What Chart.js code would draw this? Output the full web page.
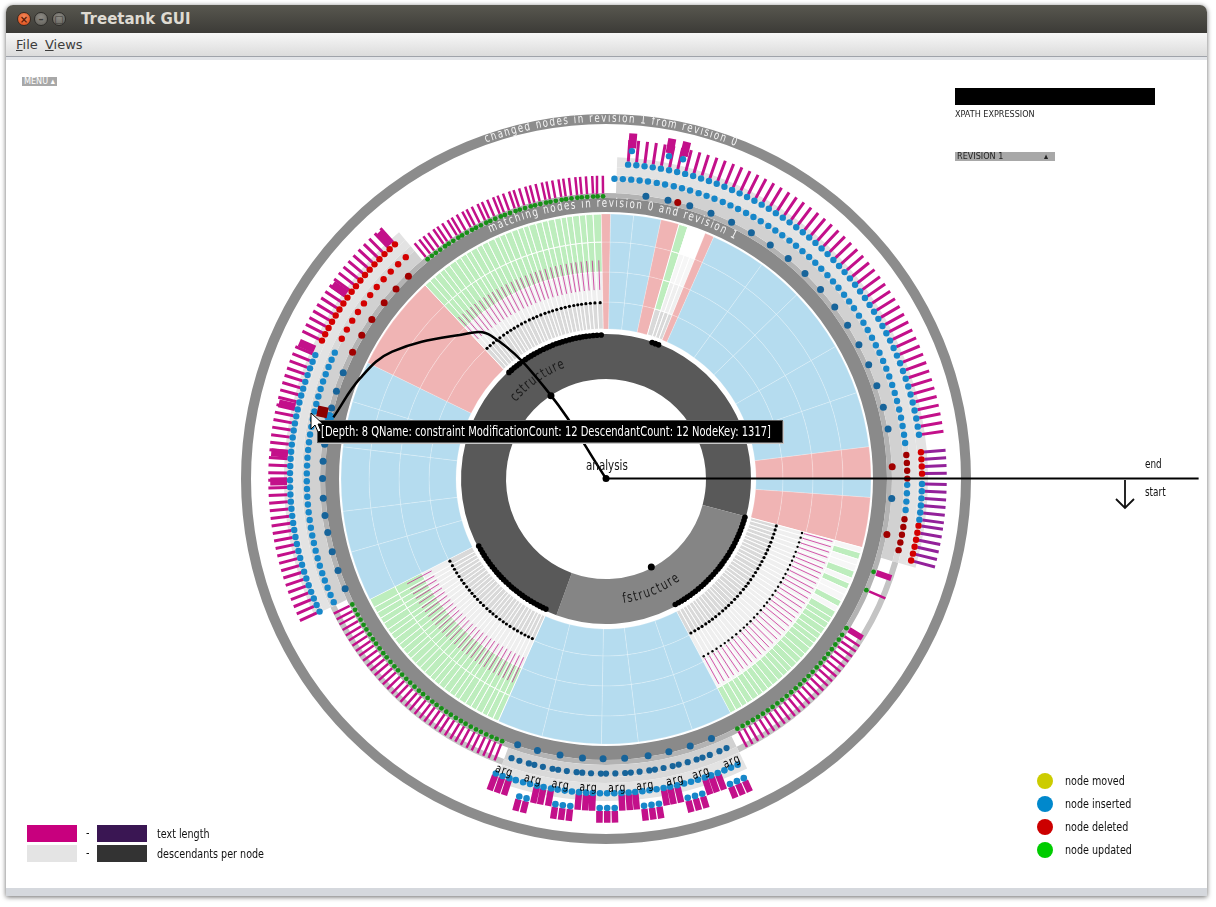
<!DOCTYPE html>
<html>
<head>
<meta charset="utf-8">
<title>Treetank GUI</title>
<script src="https://cdn.jsdelivr.net/npm/chart.js@4.4.1/dist/chart.umd.min.js"></script>
<style>
  body { margin: 0; width: 1216px; height: 907px; background: #fff; overflow: hidden; position: relative;
    font-family: "Liberation Sans Narrow", "DejaVu Sans Condensed", sans-serif; }
  #win { position: absolute; left: 6px; top: 5px; width: 1201px; height: 891px; background: #fff;
    border-radius: 7px 7px 0 0; box-shadow: 0 1px 5px rgba(0,0,0,.6); }
  #title { position: absolute; left: 0; top: 0; width: 100%; height: 28px; border-radius: 7px 7px 0 0;
    background: linear-gradient(#58574f, #3c3b37); }
  .b { position: absolute; top: 7px; width: 14px; height: 14px; border-radius: 50%; box-sizing: border-box;
    font: bold 10px/13px "DejaVu Sans", sans-serif; text-align: center; }
  .close { left: 11px; background: radial-gradient(circle at 50% 35%, #f58a5c, #dd4814); color: #5a1a05; border: 1px solid #3a2a20; }
  .min { left: 28px; background: radial-gradient(circle at 50% 35%, #8d8b85, #605e58); color: #3a3935; border: 1px solid #2e2d2a; }
  .max { left: 46px; background: radial-gradient(circle at 50% 35%, #8d8b85, #605e58); color: #3a3935; border: 1px solid #2e2d2a; }
  #ttl { position: absolute; left: 75px; top: 5px; color: #dfdbd2; font: bold 15px "DejaVu Sans", sans-serif; }
  #menu { position: absolute; left: 0; top: 28px; width: 100%; height: 23px; background: linear-gradient(#f7f7f7, #dcdcdc);
    border-bottom: 1px solid #9fa3aa; font: 13px "DejaVu Sans", sans-serif; color: #3c3c3c; }
  #menu span { position: absolute; top: 4px; }
  #strip { position: absolute; left: 0; top: 52px; width: 100%; height: 3px; background: #e2e4e8; }
  #bottom { position: absolute; left: 0; bottom: 0; width: 100%; height: 8px; background: #d5d8dd; }
  canvas { position: absolute; left: 0; top: 0; }
  .ui { position: absolute; white-space: nowrap; }
  .tiny { font: 9px/9px "DejaVu Sans Condensed", sans-serif; }
  .lab { font-size: 13px; color: #111; transform: scaleX(0.82); transform-origin: 0 50%; }
  .dot { position: absolute; width: 16px; height: 16px; border-radius: 50%; }
</style>
</head>
<body>
<div id="win">
  <div id="title"><span class="b close">×</span><span class="b min">–</span><span class="b max">□</span><span id="ttl">Treetank GUI</span></div>
  <div id="menu"><span style="left:10px"><u>F</u>ile</span><span style="left:39px"><u>V</u>iews</span></div>
  <div id="strip"></div>
  <div id="bottom"></div>
</div>
<canvas id="rings" width="1216" height="907"></canvas>
<canvas id="marks" width="1216" height="907"></canvas>

<div class="ui tiny" style="left:22px;top:77px;width:35px;height:9px;background:#a8a8a8;color:#fff;padding-left:2px;box-sizing:border-box;overflow:hidden">MENU ▴</div>
<div class="ui" style="left:955px;top:88px;width:200px;height:17px;background:#000"></div>
<div class="ui tiny" style="left:955px;top:110px;color:#222">XPATH EXPRESSION</div>
<div class="ui tiny" style="left:955px;top:152px;width:100px;height:9px;background:#a8a8a8;color:#222;padding-left:2px;box-sizing:border-box">REVISION 1<span style="position:absolute;left:89px;top:0">▴</span></div>

<div class="ui lab" style="left:1145px;top:457px;font-size:12px">end</div>
<div class="ui lab" style="left:1145px;top:485px;font-size:12px">start</div>
<svg class="ui" style="left:1110px;top:478px" width="32" height="34">
  <path d="M15 2 V30 M6 21 L15 30 L24 21" stroke="#111" stroke-width="1.8" fill="none"/>
</svg>

<div class="ui lab" style="left:586px;top:457px;font-size:14px">analysis</div>

<div class="ui" style="left:317px;top:420px;width:466px;height:23px;background:#000;border:1px solid #5a5a5a;box-shadow:1px 1px 0 #c8c8c8;box-sizing:border-box"></div>
<div class="ui lab" style="left:321px;top:421px;color:#fff;font-size:14px;line-height:21px;transform:scaleX(0.79)">[Depth: 8 QName: constraint ModificationCount: 12 DescendantCount: 12 NodeKey: 1317]</div>
<svg class="ui" style="left:310px;top:412px" width="14" height="22">
  <path d="M1 1 L1 17 L5 13 L8 20 L11 19 L8 12 L13 12 Z" fill="#fff" stroke="#000" stroke-width="1"/>
</svg>

<div class="ui" style="left:27px;top:825px;width:50px;height:17px;background:#c8007e"></div>
<div class="ui lab" style="left:86px;top:825px">-</div>
<div class="ui" style="left:97px;top:825px;width:50px;height:17px;background:#3a1653"></div>
<div class="ui lab" style="left:157px;top:826px">text length</div>
<div class="ui" style="left:27px;top:845px;width:50px;height:17px;background:#e4e4e4"></div>
<div class="ui lab" style="left:86px;top:845px">-</div>
<div class="ui" style="left:97px;top:845px;width:50px;height:17px;background:#333"></div>
<div class="ui lab" style="left:157px;top:846px">descendants per node</div>

<div class="dot" style="left:1037px;top:773px;background:#cccc00"></div>
<div class="ui lab" style="left:1065px;top:773px">node moved</div>
<div class="dot" style="left:1037px;top:796px;background:#0088cc"></div>
<div class="ui lab" style="left:1065px;top:796px">node inserted</div>
<div class="dot" style="left:1037px;top:819px;background:#cc0000"></div>
<div class="ui lab" style="left:1065px;top:819px">node deleted</div>
<div class="dot" style="left:1037px;top:842px;background:#00cc00"></div>
<div class="ui lab" style="left:1065px;top:842px">node updated</div>

<script>
"use strict";
const RAD = Math.PI / 180;
const NONE = "rgba(0,0,0,0)";
const FONT = '"Liberation Sans Narrow", "DejaVu Sans Condensed", sans-serif';

// ---- inner sunburst (angles in degrees, clockwise from the start line)
const sunKinds = ["B", "P", "G3", "B", "G5", "B", "P", "G8", "P", "B", "P", "GR", "GS", "P", "B", "P"];
const g3Leaves = [1.2, 1.5, 1.3, 1.4, 1.6, 1.2, 1.4, 1.3, 1.5, 1.4, 1.2, 1.6, 1.3, 1.4, 1.5, 1.3, 1.2,
  1.4, 1.6, 1.3, 1.4, 1.5, 1.2, 1.3, 1.4, 1.6, 1.3, 1.4, 1.2, 1.5, 1.4, 1.3, 1.5, 1.4];
const g3Green = [0, 1, 0, 0, 1, 0, 1, 0, 0, 1, 0, 1, 1, 1, 1, 1, 1, 1, 1, 1, 1, 1, 1, 1, 1, 1, 1, 1, 1, 1, 1, 1, 1, 1];
const g5Leaves = [1.3, 1.4, 1.2, 1.5, 1.3, 1.4, 1.6, 1.2, 1.3, 1.5, 1.4, 1.3, 1.2, 1.6, 1.4, 1.3, 1.5,
  1.2, 1.4, 1.3, 1.5, 1.4, 1.2, 1.6, 1.3, 1.4, 1.3, 2.0];
const g8Leaves = [1.4, 1.3, 1.5, 1.2, 1.4, 1.6, 1.3, 1.4, 1.2, 1.5, 1.3, 1.4, 1.6, 1.2, 1.3, 1.5, 1.4,
  1.3, 1.2, 1.6, 1.4, 1.3, 1.5, 1.4, 1.2, 1.3, 1.5, 1.4, 1.6, 1.8];
const gsLeaves = [1.3, 1.4, 1.3];
const sunParts = [[4], [11], g3Leaves, [9, 12, 8, 13, 10], g5Leaves, [11, 9, 14, 10, 9], [21], g8Leaves,
  [2], [5, 6], [4], [2], gsLeaves, [2], [12, 10, 14, 11, 12], [7]];
const regionStart = { G3: 15, G5: 114, G8: 227, GS: 288 };

const rootSpans = [15, 95, 250];
const rootNames = ["cstructure", "fstructure", "cstructure"];
const rootDots = [236.5, 63];

// ---- outer bands: C = changed nodes, M = matching nodes
const outerSpans = [16, 48, 46, 45, 75, 42, 88];
const outerKinds = ["C", "M", "C", "M", "C", "M", "C"];

// changed nodes, top right
const trRow1Blue = [278, 282.5, 287, 291.5, 296, 300.5, 305, 309.5, 314, 318.5, 323, 327.5, 332, 336.5, 341, 345.5, 350, 364];
const trRow1Red = [284.5, 357.6, 371.3];
const trRow2Blue = [271.6, 273.2, 274.8, 276.4, 278, 279.7, 281.3, 283, 284.6, 286.2, 287.9, 289.5, 291.1, 292.8,
  294.4, 296, 297.7, 299.3, 300.9, 302.6, 304.2, 305.8, 307.5, 309.1, 310.7, 312.4, 314, 315.6, 317.3, 318.9,
  320.5, 322.2, 323.8, 325.4, 327.1, 328.7, 330.3, 332, 333.6, 335.2, 336.9, 338.5, 340.1, 341.8, 343.4, 345,
  346.7, 348.3, 349.9, 351.6, 353.2, 361.2, 362.8, 364.4, 366];
const trRow2Red = [355.5, 357, 358.5, 360, 367.8, 369.3, 370.8, 372.3, 373.8];
const trRow3Blue = [274, 275.5, 277, 278.5, 280, 281.5, 283, 284.5, 286, 287.5, 289, 290.5, 292, 293.5, 295,
  296.5, 298, 299.5, 301, 302.5, 304, 305.5, 307, 308.5, 310, 311.5, 313, 314.5, 316, 317.5, 319, 320.5, 322,
  323.5, 325, 326.5, 328, 329.5, 331, 332.5, 334, 335.5, 337, 338.5, 340, 341.5, 343, 344.5, 346, 347.5, 349,
  350.5, 352];
const trRow3BlueEast = [361, 362.3, 363.6, 364.9, 366.2, 367.5];
const trRow3Red = [355.2, 356.5, 357.8, 359.1, 368.6, 369.9, 371.2, 372.5, 373.8, 375.1];
const trBlocks = [274.5, 281, 283.5];

// changed nodes, left
const leftRow1Blue = [157, 161, 165, 169, 172.5, 176, 180, 183.5, 187, 191, 194.5, 198, 202];
const leftRow1Red = [206.6, 210.5, 214.3, 218.5, 222.2, 225.8];
const leftRow2Blue = [155.5, 157, 158.5, 160, 161.5, 163, 164.5, 166, 167.5, 169, 170.5, 172, 173.5, 175, 176.5,
  178, 179.5, 181, 182.5, 184, 185.5, 187, 188.5, 190, 191.5, 193, 194.5, 196, 197.5, 199, 200.5, 202, 203.5, 205];
const leftRow2Red = [208, 210, 212, 214, 216, 218, 220, 222, 224, 226, 228];
const leftRow3Blue = [155, 156.3, 157.6, 158.9, 160.2, 161.5, 162.8, 164.1, 165.4, 166.7, 168, 169.3, 170.6, 171.9,
  173.2, 174.5, 175.8, 177.1, 178.4, 179.7, 181, 182.3, 183.6, 184.9, 186.2, 187.5, 188.8, 190.1, 191.4, 192.7,
  194, 195.3, 196.6, 197.9, 199.2, 200.5, 201.8, 203.1];
const leftRow3Red = [206, 207.3, 208.6, 209.9, 211.2, 212.5, 213.8, 215.1, 216.4, 217.7, 219, 220.3, 221.6, 222.9,
  224.2, 225.5, 226.8, 228.1];
const leftBlocks = [179.5, 184.5, 193, 204, 215.5, 227.5];

// changed nodes, bottom ("arg" elements)
const botRow1 = [68, 72.6, 77.1, 81.4, 86.2, 90.6, 94.8, 99.4, 104.1, 108.3];
const botRow2 = [66, 67.5, 69.5, 71, 72.2, 74, 75.8, 77, 78.8, 80.5, 81.6, 83.5, 85.2, 86.3, 88.2, 90, 91, 92.9,
  94.6, 95.7, 97.6, 99.3, 100.4, 102.3, 104, 105.1, 107, 108.6];
const botArgs = [109.3, 103.7, 98.5, 93.3, 88, 82.8, 77.2, 72.2, 66.1];
const botRow3 = [110.4, 109.1, 107.8, 106.6, 105.2, 103.9, 102.6, 101.4, 100, 98.8, 97.5, 96.2, 94.9, 93.6, 92.4,
  91.1, 89.8, 88.5, 87.2, 85.9, 84.7, 83.4, 82.1, 80.8, 79.5, 78.3, 77, 75.7, 74.4, 73.1, 71.8, 70.6, 69.3, 68,
  66.7, 65.4];
const botInnerBars = [110.4, 109.1, 107.8, 102.6, 101.4, 100, 94.9, 93.6, 92.4, 87.2, 85.9, 84.7, 79.5, 78.3, 77,
  71.8, 70.6, 69.3];
const botOuterBars = [105.2, 103.9, 98.8, 97.5, 96.2, 91.1, 89.8, 88.5, 83.4, 82.1, 80.8, 75.7, 74.4, 73.1, 68,
  66.7, 65.4];

// updated nodes on the matching band
const greenTL = [231, 232.1, 233.1, 234.2, 235.4, 236.3, 237.4, 238.6, 239.5, 240.6, 241.8, 242.7, 243.8, 245,
  245.9, 247, 248.2, 249.1, 250.2, 251.4, 252.3, 253.4, 254.6, 255.5, 256.6, 257.8, 258.7, 259.8, 261, 261.9,
  263, 264.2, 265.1, 266.2, 267.4, 268.3, 269.4];
const greenLL = [111.5, 112.7, 113.8, 115, 116.2, 117.3, 118.5, 119.7, 120.8, 122, 123.2, 124.3, 125.5, 126.7,
  127.8, 129, 130.2, 131.3, 132.5, 133.7, 134.8, 136, 137.2, 138.3, 139.5, 140.7, 141.8, 143, 144.2, 145.3,
  146.5, 147.7, 148.8, 150, 151.2, 152.3, 153.5];
const greenLR = [23.3, 33.6, 34.8, 36, 37.2, 38.4, 39.6, 40.8, 42, 43.2, 44.4, 45.6, 46.8, 48, 49.2, 50.4, 51.6,
  52.8, 54, 55.2, 56.4, 57.6, 58.8, 60, 61.2, 62.4];
const greenWide = [19.3, 32.0];

// hovered node and its link to the root
const hoverNode = { angle: 193.3, radius: 295 };
const linkAngles = [0, 236.5, 231.3, 224.6, 210.8, 202.3, 192.7];
const linkRadii = [0, 103, 186, 208, 252, 269, 283];

// ---------- helpers
const pol = (a, r) => ({ x: r * Math.cos(a * RAD), y: r * Math.sin(a * RAD) });
const GAP = { x: null, y: null };
const centers = (start, spans) => { let s = start; return spans.map((v) => { const c = s + v / 2; s += v; return c; }); };

const BLUE = "#b5dcef", PINK = "#f0b4b4", GREEN = "#bdedbd";
function sunColor(kind, ring, i) {
  if (kind === "B") return BLUE;
  if (kind === "P") return PINK;
  if (kind === "GR") return ring === 0 ? "#d9d9d9" : GREEN;
  if (ring === 0) return "#d9d9d9";
  if (ring === 1) return "#efefef";
  if (kind === "GS") return ring === 2 ? "#f6f6f6" : "#ffffff";
  if (kind === "G3") return ring === 2 ? "#f5f5f5" : (g3Green[i] ? GREEN : "#f7f7f7");
  return GREEN;
}
function sunRing(ring, weight) {
  const data = [], bg = [], bc = [];
  sunParts.forEach((parts, k) => parts.forEach((v, i) => {
    data.push(v);
    bg.push(sunColor(sunKinds[k], ring, i));
    bc.push(sunKinds[k][0] === "G" ? "#ffffff" : "rgba(255,255,255,0.2)");
  }));
  return { data, backgroundColor: bg, borderColor: bc, borderWidth: 1, weight };
}
const plain = (weight, color) => ({ data: [360], backgroundColor: color, borderWidth: 0, weight });
const band = (weight, colC, colM) => ({ data: outerSpans, borderWidth: 0, weight,
  backgroundColor: outerKinds.map((k, i) => (k === "C" ? colC : colM(i))) });

// ---------- rings (doughnut, outermost dataset first, weight = px)
new Chart(document.getElementById("rings"), {
  type: "doughnut",
  data: { datasets: [
    plain(10, "#8c8c8c"),
    plain(10, NONE),
    plain(23, NONE),
    band(10, "#e3e3e3", () => NONE),
    band(8, "#e3e3e3", () => NONE),
    band(6, "#d9d9d9", (i) => (i === 5 ? NONE : "#c4c4c4")),
    band(12, "#d1d1d1", () => NONE),
    plain(5, "#b3b3b3"),
    plain(14, "#8a8a8a"),
    plain(2, NONE),
    sunRing(3, 28), sunRing(2, 30), sunRing(1, 30), sunRing(0, 27),
    plain(5, NONE),
    { data: rootSpans, borderWidth: 0, weight: 45,
      backgroundColor: rootNames.map((n) => (n === "cstructure" ? "#595959" : "#858585")) },
    plain(100, NONE),
  ] },
  options: { responsive: false, animation: false, events: [], rotation: 90, circumference: 360,
    radius: 365, cutout: 0, layout: { padding: { left: 0, right: 4, top: 51, bottom: 0 } },
    plugins: { legend: { display: false }, tooltip: { enabled: false } } },
});

// ---------- marks (dots, bars, lines) on a 1px = 1 unit polar frame
const dots = (angles, r, color, size) => ({ type: "scatter", order: 3, data: angles.map((a) => pol(a, r)),
  pointRadius: size, pointBackgroundColor: color, pointBorderWidth: 0, borderWidth: 0 });
const bars = (angles, r0, r1, color, w) => ({ type: "line", order: 4,
  data: angles.flatMap((a) => [pol(a, r0), pol(a, r1), GAP]), borderColor: color, borderWidth: w,
  pointRadius: 0, showLine: true, spanGaps: false, borderCapStyle: "butt", tension: 0 });

const DBLUE = "#17649a", IBLUE = "#1787c9", DRED = "#a00000", RED = "#d40000", GDOT = "#178f17";
const MAG = "#c3108a", PURP = "#93219a", SLIVER = "rgba(196,17,138,0.7)";
const c3 = centers(regionStart.G3, g3Leaves), c5 = centers(regionStart.G5, g5Leaves);
const c8 = centers(regionStart.G8, g8Leaves), cs = centers(regionStart.GS, gsLeaves);

const ringLabels = [
  { t: "changed nodes in revision 1 from revision 0", a: 270.8, r: 360, c: "#f4f4f4", f: "12px " + FONT, g: 1.6, s: 0.8 },
  { t: "matching nodes in revision 0 and revision 1", a: 271.5, r: 275, c: "#f4f4f4", f: "12px " + FONT, g: 1.6, s: 0.8 },
  { t: "cstructure", a: 235, r: 122, c: "#1a1a1a", f: "14px " + FONT, g: 1.2, s: 0.8 },
  { t: "fstructure", a: 68, r: 122, c: "#1a1a1a", f: "14px " + FONT, g: 1.2, s: 0.8 },
];
const argLabels = botArgs.map((a) => ({ t: "arg", a, r: 310, c: "#000", f: "12px " + FONT, g: 1, s: 0.85 }));

function arcText(ctx, cx, cy, L) {
  ctx.save();
  ctx.font = L.f; ctx.fillStyle = L.c; ctx.textAlign = "center"; ctx.textBaseline = "middle";
  const chars = [...L.t];
  const ws = chars.map((ch) => ctx.measureText(ch).width * L.s + L.g);
  const total = ws.reduce((s, w) => s + w, 0);
  const upper = Math.sin(L.a * RAD) < 0;
  let acc = 0;
  chars.forEach((ch, i) => {
    const off = (acc + ws[i] / 2 - total / 2) / L.r;
    const a = L.a * RAD + (upper ? off : -off);
    ctx.save();
    ctx.translate(cx + L.r * Math.cos(a), cy + L.r * Math.sin(a));
    ctx.rotate(upper ? a + Math.PI / 2 : a - Math.PI / 2);
    ctx.scale(L.s, 1);
    ctx.fillText(ch, 0, 0);
    ctx.restore();
    acc += ws[i];
  });
  ctx.restore();
}

const arcTextPlugin = {
  id: "arcText",
  beforeDatasetsDraw(chart) {
    const { x, y } = chart.scales;
    ringLabels.forEach((L) => arcText(chart.ctx, x.getPixelForValue(0), y.getPixelForValue(0), L));
  },
  afterDatasetsDraw(chart) {
    const { x, y } = chart.scales;
    argLabels.forEach((L) => arcText(chart.ctx, x.getPixelForValue(0), y.getPixelForValue(0), L));
  },
};

new Chart(document.getElementById("marks"), {
  type: "scatter",
  data: { datasets: [
    // link from the root to the hovered node
    { type: "line", order: 0, data: linkAngles.map((a, i) => pol(a, linkRadii[i])), borderColor: "#000",
      borderWidth: 2.5, pointRadius: 0, tension: 0.4, showLine: true },
    { type: "scatter", order: 1, data: [pol(hoverNode.angle, hoverNode.radius)], pointStyle: "rect",
      pointRadius: 7.5, pointBackgroundColor: "#8b0000", pointBorderWidth: 0, rotation: 12 },
    { type: "scatter", order: 1, data: [pol(192.6, 287)], pointRadius: 5, pointBackgroundColor: IBLUE, pointBorderWidth: 0 },
    // start / end line
    { type: "line", order: 2, data: [pol(0, 0), pol(0, 600)], borderColor: "#000", borderWidth: 2, pointRadius: 0, showLine: true },
    dots([0], 0, "#000", 3.5),
    dots(rootDots, 101, "#000", 3.5),
    // inner sunburst nodes
    dots([...c3, ...c5, ...c8, ...cs], 146, "#000", 2.8),
    dots([...c3, ...c5, ...c8], 179, "#000", 1.6),
    dots(c3, 206, "#000", 1.2),
    bars(c3, 208, 238, SLIVER, 1),
    bars(c5, 200, 228, SLIVER, 1),
    bars(c8, 192, 222, SLIVER, 1),
    // updated nodes
    dots([...greenTL, ...greenLL, ...greenLR, ...greenWide], 287, GDOT, 2.4),
    bars([...greenTL, ...greenLL, ...greenLR], 290, 308, MAG, 2.5),
    bars(greenWide, 290, 306, MAG, 6),
    // changed nodes, top right
    dots(trRow1Blue, 290, DBLUE, 3.5), dots(trRow1Red, 290, DRED, 3.5),
    dots(trRow2Blue, 305, IBLUE, 3.2), dots(trRow2Red, 305, DRED, 3.2),
    dots([...trRow3Blue, ...trRow3BlueEast], 320, IBLUE, 3.2), dots(trRow3Red, 320, RED, 3.2),
    bars(trRow3Blue, 323, 345, MAG, 3),
    bars([...trRow3BlueEast, ...trRow3Red], 323, 345, PURP, 3),
    dots(trBlocks, 334, IBLUE, 3.2),
    bars(trBlocks, 337, 352, MAG, 8),
    // changed nodes, left
    dots(leftRow1Blue, 287, DBLUE, 3.5), dots(leftRow1Red, 287, DRED, 3.5),
    dots(leftRow2Blue, 303, IBLUE, 3.2), dots(leftRow2Red, 303, RED, 3.2),
    dots(leftRow3Blue, 320, IBLUE, 3.2), dots(leftRow3Red, 320, RED, 3.2),
    bars([...leftRow3Blue, ...leftRow3Red], 323, 342, MAG, 3),
    bars(leftBlocks, 323, 340, MAG, 8),
    // changed nodes, bottom
    dots(botRow1, 285, DBLUE, 3.5),
    dots(botRow2, 300, DBLUE, 3.1),
    dots(botRow3, 320, IBLUE, 3.3),
    dots(botOuterBars, 335, IBLUE, 3.3),
    bars(botInnerBars, 322, 338, MAG, 6.5),
    bars(botOuterBars, 338, 350, MAG, 6.5),
  ] },
  options: { responsive: false, animation: false, events: [], layout: { padding: 0 },
    scales: { x: { type: "linear", min: -606, max: 610, display: false },
      y: { type: "linear", min: -479, max: 428, reverse: true, display: false } },
    plugins: { legend: { display: false }, tooltip: { enabled: false } } },
  plugins: [arcTextPlugin],
});
</script>
</body>
</html>
